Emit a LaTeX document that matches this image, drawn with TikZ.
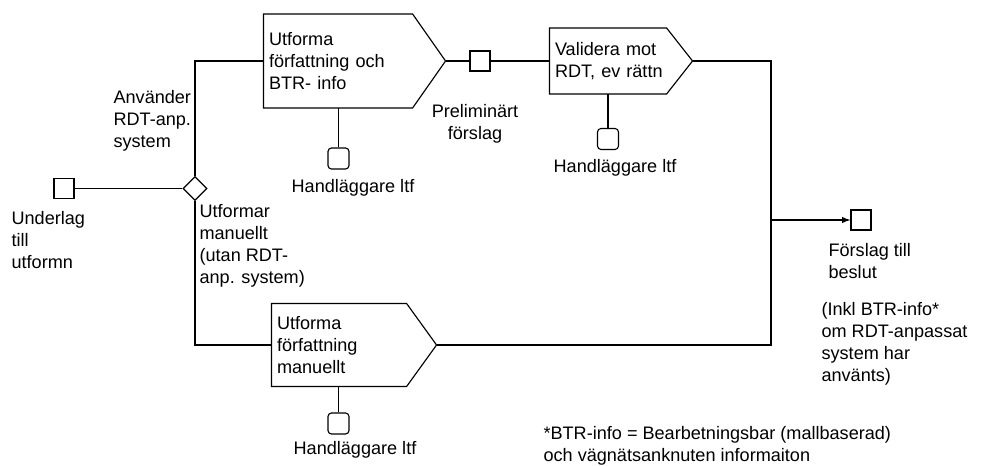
\documentclass[tikz,border=0pt]{standalone}
\usepackage{fontspec}
\setmainfont{Liberation Sans}
\usetikzlibrary{shapes.geometric}
\tikzset{
  fn/.style={font=\fontsize{10.3}{12.5}\selectfont},
  act/.style={fn,rectangle,align=left,inner xsep=0.1cm,inner ysep=0pt},
  flow/.style={draw,rectangle,minimum size=0.4cm,inner sep=0pt},
  res/.style={draw,rectangle,rounded corners=2pt,minimum size=0.42cm,inner sep=0pt},
  lbl/.style={fn,align=left,inner sep=0pt},
}
\begin{document}
\begin{tikzpicture}[x=0.02cm,y=-0.02cm,line width=0.65pt]
\useasboundingbox (0,0) rectangle (985,466);
% activities
\node[act,text width=3.42cm,minimum height=1.86cm] (b1) at (354.5,61) {Utforma\\författning och\\BTR- info};
\node[act,text width=2.64cm,minimum height=1.30cm] (b2) at (621,61) {Validera mot\\RDT, ev rättn};
\node[act,text width=3.08cm,minimum height=1.64cm] (b3) at (354,345) {Utforma\\författning\\manuellt};
\foreach \b/\p in {b1/33,b2/26,b3/30}
  \draw (\b.north west) -- ([xshift=-\p*0.02cm]\b.north east) -- (\b.east)
    -- ([xshift=-\p*0.02cm]\b.south east) -- (\b.south west) -- cycle;
% in- and outputs
\node[flow] (in) at (64,188.5) {};
\node[flow] (pre) at (480,61) {};
\node[flow] (out) at (861,220) {};
\node[draw,diamond,inner sep=0pt,minimum size=0.48cm] (dia) at (195,188.5) {};
% resources
\node[res] (r1) at (338.5,158.5) {};
\node[res] (r2) at (608,139) {};
\node[res] (r3) at (338.5,423.5) {};
% connectors
\draw (in) -- (dia);
\draw (dia.north) |- (b1.west);
\draw (dia.south) |- (b3.west);
\draw (b1.east) -- (pre) -- (b2.west);
\coordinate (jn) at (771,220);
\draw (b2.east) -| (jn) |- (b3.east);
\draw[-latex] (jn) -- (out);
\foreach \r/\b in {r1/b1,r2/b2,r3/b3}
  \draw (\r) -- (\r |- \b.south);
% labels
\node[lbl,anchor=west] (lin) at (11,240) {Underlag\\till\\utformn};
\node[lbl,anchor=west] (luse) at (113,121) {Använder\\RDT-anp.\\system};
\node[lbl,anchor=west] (lman) at (199,246) {Utformar\\manuellt\\(utan RDT-\\anp. system)};
\node[lbl,align=center] (lpre) at (475,123.5) {Preliminärt\\förslag};
\node[lbl] (lr1) at (353,188) {Handläggare ltf};
\node[lbl] (lr2) at (615,168) {Handläggare ltf};
\node[lbl] (lr3) at (355,450) {Handläggare ltf};
\node[lbl,anchor=west] (lout) at (828,261.5) {Förslag till\\beslut};
\node[lbl,anchor=west] (linkl) at (821,344) {(Inkl BTR-info*\\om RDT-anpassat\\system har\\använts)};
\node[lbl,anchor=west] (lnote) at (543,446) {*BTR-info = Bearbetningsbar (mallbaserad)\\och vägnätsanknuten informaiton};
\end{tikzpicture}
\end{document}
